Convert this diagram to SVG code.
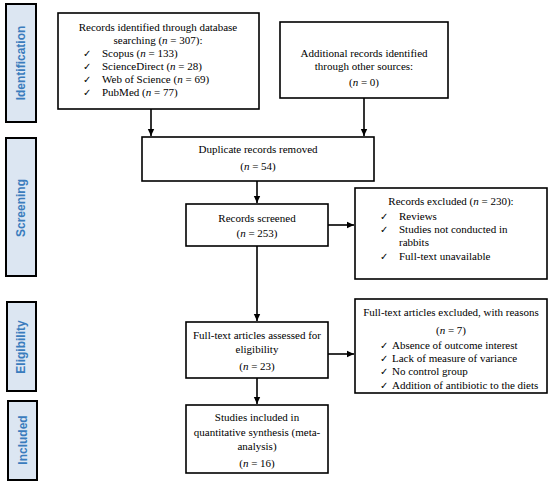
<svg xmlns="http://www.w3.org/2000/svg" width="550" height="482" viewBox="0 0 550 482">
<defs>
<marker id="ah" markerWidth="8" markerHeight="8" refX="7" refY="4" orient="auto" markerUnits="userSpaceOnUse">
<path d="M0,0.8 L7,4 L0,7.2 Z" fill="#000"/>
</marker>
<style>
.box{fill:#fff;stroke:#000;stroke-width:1.6}
.side{fill:#dce6f2;stroke:#000;stroke-width:2}
.st{font-family:"Liberation Sans","DejaVu Sans",sans-serif;font-size:12px;font-weight:bold;fill:#3a7cbd;text-anchor:middle}
.t{font-family:"Liberation Serif","DejaVu Serif",serif;font-size:11px;fill:#000}
.c{text-anchor:middle}
.ck{font-family:"DejaVu Sans",sans-serif;font-size:10px}
.i{font-style:italic}
.ln{stroke:#000;stroke-width:1.6;fill:none;marker-end:url(#ah)}
</style>
</defs>
<rect width="550" height="482" fill="#fff"/>
<g id="phase-identification"><rect class="side" x="6" y="4" width="30" height="118"/><text class="st" transform="translate(25,63) rotate(-90)">Identification</text></g>
<g id="phase-screening"><rect class="side" x="6" y="138" width="30" height="138"/><text class="st" transform="translate(25,208) rotate(-90)">Screening</text></g>
<g id="phase-eligibility"><rect class="side" x="7" y="302" width="29" height="89"/><text class="st" transform="translate(25,347) rotate(-90)">Eligibility</text></g>
<g id="phase-included"><rect class="side" x="8" y="401" width="29" height="79"/><text class="st" transform="translate(27,440) rotate(-90)">Included</text></g>

<g id="connectors">
<path class="ln" d="M151,109 V136"/>
<path class="ln" d="M364,98 V136"/>
<path class="ln" d="M257,181 V203"/>
<path class="ln" d="M328,225 H354"/>
<path class="ln" d="M257,246 V321"/>
<path class="ln" d="M328,354 H354"/>
<path class="ln" d="M257,378 V404"/>
</g>

<g id="n-identified"><rect class="box" x="58" y="13" width="201" height="96"/>
<text class="t c" x="158" y="31">Records identified through database</text>
<text class="t c" x="158" y="44">searching (<tspan class="i">n</tspan> = 307):</text>
<text class="t" x="83" y="57"><tspan class="ck">✓</tspan><tspan x="102">Scopus (<tspan class="i">n</tspan> = 133)</tspan></text>
<text class="t" x="83" y="70"><tspan class="ck">✓</tspan><tspan x="102">ScienceDirect (<tspan class="i">n</tspan> = 28)</tspan></text>
<text class="t" x="83" y="83"><tspan class="ck">✓</tspan><tspan x="102">Web of Science (<tspan class="i">n</tspan> = 69)</tspan></text>
<text class="t" x="83" y="96"><tspan class="ck">✓</tspan><tspan x="102">PubMed (<tspan class="i">n</tspan> = 77)</tspan></text>
</g>
<g id="n-additional"><rect class="box" x="280" y="22" width="168" height="76"/>
<text class="t c" x="364" y="57">Additional records identified</text>
<text class="t c" x="364" y="70">through other sources:</text>
<text class="t c" x="364" y="86">(<tspan class="i">n</tspan> = 0)</text>
</g>
<g id="n-duplicates"><rect class="box" x="142" y="137" width="232" height="44"/>
<text class="t c" x="258" y="153">Duplicate records removed</text>
<text class="t c" x="258" y="170">(<tspan class="i">n</tspan> = 54)</text>
</g>
<g id="n-screened"><rect class="box" x="186" y="204" width="142" height="42"/>
<text class="t c" x="257" y="222">Records screened</text>
<text class="t c" x="257" y="237">(<tspan class="i">n</tspan> = 253)</text>
</g>
<g id="n-excluded"><rect class="box" x="355" y="188" width="192" height="91"/>
<text class="t c" x="451" y="205">Records excluded (<tspan class="i">n</tspan> = 230):</text>
<text class="t" x="380" y="220"><tspan class="ck">✓</tspan><tspan x="399">Reviews</tspan></text>
<text class="t" x="380" y="233"><tspan class="ck">✓</tspan><tspan x="399">Studies not conducted in</tspan></text>
<text class="t" x="399" y="246">rabbits</text>
<text class="t" x="380" y="260"><tspan class="ck">✓</tspan><tspan x="399">Full-text unavailable</tspan></text>
</g>
<g id="n-assessed"><rect class="box" x="186" y="322" width="142" height="56"/>
<text class="t c" x="257" y="339">Full-text articles assessed for</text>
<text class="t c" x="257" y="353">eligibility</text>
<text class="t c" x="257" y="370">(<tspan class="i">n</tspan> = 23)</text>
</g>
<g id="n-fulltext-excluded"><rect class="box" x="355" y="299" width="192" height="94"/>
<text class="t c" x="451" y="316">Full-text articles excluded, with reasons</text>
<text class="t c" x="451" y="334">(<tspan class="i">n</tspan> = 7)</text>
<text class="t" x="380" y="349"><tspan class="ck">✓</tspan><tspan x="392">Absence of outcome interest</tspan></text>
<text class="t" x="380" y="362"><tspan class="ck">✓</tspan><tspan x="392">Lack of measure of variance</tspan></text>
<text class="t" x="380" y="375"><tspan class="ck">✓</tspan><tspan x="392">No control group</tspan></text>
<text class="t" x="380" y="389"><tspan class="ck">✓</tspan><tspan x="392">Addition of antibiotic to the diets</tspan></text>
</g>
<g id="n-included"><rect class="box" x="186" y="405" width="142" height="68"/>
<text class="t c" x="257" y="421">Studies included in</text>
<text class="t c" x="257" y="436">quantitative synthesis (meta-</text>
<text class="t c" x="257" y="450">analysis)</text>
<text class="t c" x="257" y="467">(<tspan class="i">n</tspan> = 16)</text>
</g>
</svg>
